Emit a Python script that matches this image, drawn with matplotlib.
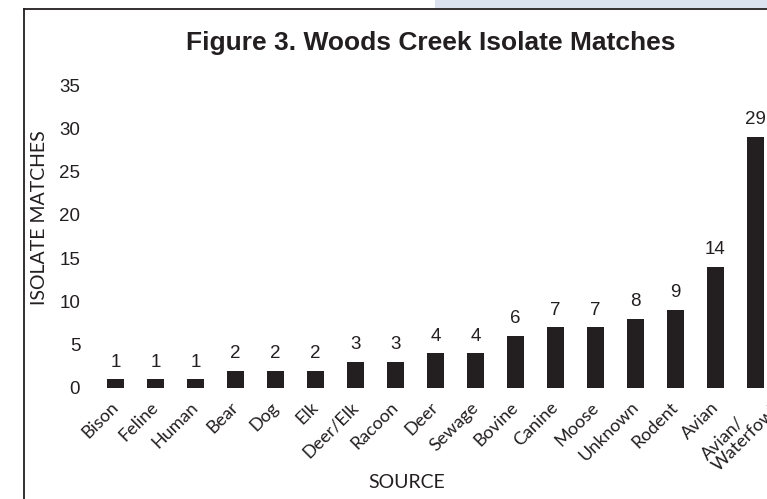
import matplotlib.pyplot as plt
import matplotlib.transforms as mtransforms
from matplotlib.lines import Line2D
from matplotlib.patches import Rectangle

sources = ["Bison", "Feline", "Human", "Bear", "Dog", "Elk", "Deer/Elk", "Racoon",
           "Deer", "Sewage", "Bovine", "Canine", "Moose", "Unknown", "Rodent",
           "Avian", "Avian/\nWaterfowl"]
matches = [1, 1, 1, 2, 2, 2, 3, 3, 4, 4, 6, 7, 7, 8, 9, 14, 29]
y_ticks = [0, 5, 10, 15, 20, 25, 30, 35]

INK = "#231f20"
W, H = 767, 499

fig = plt.figure(figsize=(W / 100, H / 100), dpi=100)

# axes placed so bar 0 centre sits at x=115.5px, spacing 40px, y=0 at 388px
left = 95.5 / W
width = 40 * 17 / W
bottom = (H - 388) / H
height = 303 / H
ax = fig.add_axes([left, bottom, width, height])

xs = list(range(len(sources)))
ax.bar(xs, matches, width=0.43, color=INK)
ax.set_xlim(-0.5, 16.5)
ax.set_ylim(0, 35)

for x, v in zip(xs, matches):
    ax.text(x, v + 1.0, str(v), ha="center", va="bottom", fontsize=13.5,
            family="Liberation Sans", color=INK)

for s in ax.spines.values():
    s.set_visible(False)

ax.set_yticks(y_ticks)
ax.set_yticklabels([str(t) for t in y_ticks], fontsize=13.5, family="Liberation Sans", color=INK)
ax.tick_params(axis="y", length=0, pad=11)

ax.set_xticks(xs)
ax.set_xticklabels(sources, rotation=45, ha="right", va="top", fontsize=13,
                   family="Lato", color=INK, linespacing=1.0, multialignment="left")
ax.tick_params(axis="x", length=0, pad=8)
shift = mtransforms.ScaledTranslation(6 / 100, 0, fig.dpi_scale_trans)
labels = ax.get_xticklabels()
for lab in labels:
    lab.set_transform(lab.get_transform() + shift)
# the two-line label runs past the right edge in the original
extra = mtransforms.ScaledTranslation(20 / 100, 8 / 100, fig.dpi_scale_trans)
labels[-1].set_transform(labels[-1].get_transform() + extra)

fig.text(40 / W, 1 - 218 / H, "ISOLATE MATCHES", rotation=90, ha="center", va="center",
         fontsize=14, family="Lato", color=INK)
fig.text(407 / W, 1 - 483 / H, "SOURCE", ha="center", va="center",
         fontsize=14, family="Lato", color=INK)
fig.text(431 / W, 1 - 43 / H, "Figure 3. Woods Creek Isolate Matches", ha="center", va="center",
         fontsize=19, fontweight="bold", family=["Liberation Sans Narrow", "Liberation Sans"],
         color=INK)

# light blue box at top right and frame lines
fig.add_artist(Rectangle((435 / W, 1 - 8 / H), 1, 8 / H, transform=fig.transFigure,
                         facecolor="#dce2f0", edgecolor="none"))
fig.add_artist(Line2D([24 / W, 24 / W], [0, 1 - 8.5 / H], transform=fig.transFigure,
                      color=INK, lw=1.3))
fig.add_artist(Line2D([24 / W, 1], [1 - 8.5 / H, 1 - 8.5 / H], transform=fig.transFigure,
                      color=INK, lw=1.3))

fig.savefig("out.png", dpi=100)
